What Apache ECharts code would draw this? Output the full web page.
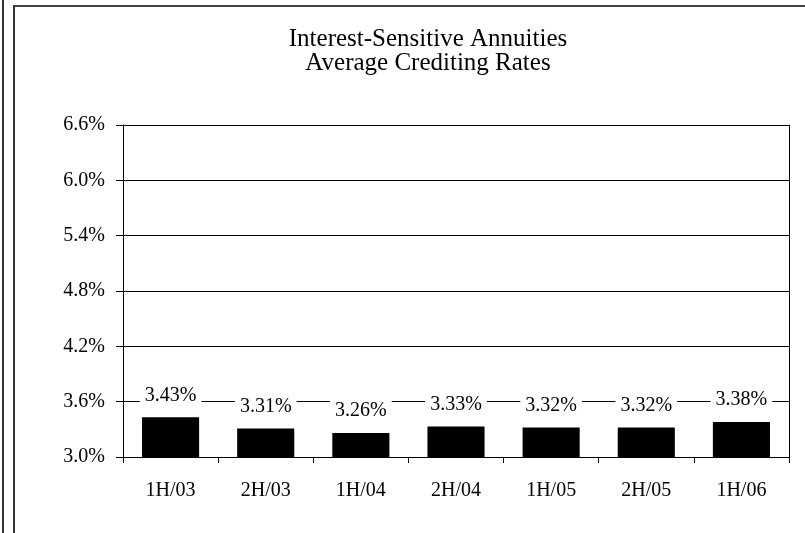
<!DOCTYPE html>
<html>
<head>
<meta charset="utf-8">
<script src="https://cdn.jsdelivr.net/npm/echarts@6/dist/echarts.min.js"></script>
<style>
  html, body { margin: 0; padding: 0; background: #fff; }
  .wrap { position: relative; width: 805px; height: 533px; overflow: hidden; }
  /* outer frame lines */
  .edge { position: absolute; left: 2px; top: 0; width: 0; height: 533px; border-left: 2px solid #333; }
  .frame { position: absolute; left: 13px; top: 5px; width: 820px; height: 560px; border-left: 2px solid #333; border-top: 2px solid #444; }
  #chart { position: absolute; left: 0; top: 0; width: 805px; height: 533px; }
</style>
</head>
<body>
<div class="wrap">
  <div class="edge"></div>
  <div class="frame"></div>
  <div id="chart"></div>
</div>
<script>
// 数据
const categories = ['1H/03', '2H/03', '1H/04', '2H/04', '1H/05', '2H/05', '1H/06']
const rates = [3.43, 3.31, 3.26, 3.33, 3.32, 3.32, 3.38]
const yTicks = [3.0, 3.6, 4.2, 4.8, 5.4, 6.0, 6.6]

const font = '"Liberation Serif", "Times New Roman", serif'

const myChart = echarts.init(document.getElementById('chart'))
const option = {
  backgroundColor: 'transparent',
  animation: false,
  title: {
    text: 'Interest-Sensitive Annuities\nAverage Crediting Rates',
    left: 423,
    top: 22,
    textAlign: 'center',
    textStyle: {
      fontFamily: font,
      fontSize: 25,
      fontWeight: 'normal',
      color: '#000',
      lineHeight: 24
    }
  },
  grid: {
    left: 123,
    right: 16,
    top: 125,
    bottom: 76,
    containLabel: false
  },
  xAxis: {
    type: 'category',
    data: categories,
    boundaryGap: true,
    axisLine: { lineStyle: { color: '#000', width: 1 } },
    axisTick: { show: true, length: 6, lineStyle: { color: '#000' } },
    axisLabel: {
      margin: 24,
      fontFamily: font,
      fontSize: 20,
      color: '#000'
    }
  },
  yAxis: [
    {
      type: 'value',
      min: yTicks[0],
      max: yTicks[yTicks.length - 1],
      interval: 0.6,
      axisLine: { show: true, lineStyle: { color: '#000', width: 1 } },
      axisTick: { show: true, length: 7, lineStyle: { color: '#000' } },
      splitLine: { show: true, lineStyle: { color: '#000', width: 1 } },
      axisLabel: {
        margin: 18,
        fontFamily: font,
        fontSize: 20,
        color: '#000',
        formatter: (v) => v.toFixed(1) + '%'
      }
    },
    {
      // 右侧边框
      type: 'value',
      position: 'right',
      min: yTicks[0],
      max: yTicks[yTicks.length - 1],
      interval: 0.6,
      axisLine: { show: true, lineStyle: { color: '#000', width: 1 } },
      axisTick: { show: false },
      axisLabel: { show: false },
      splitLine: { show: false }
    }
  ],
  series: [
    {
      type: 'bar',
      data: rates,
      barWidth: '60%',
      itemStyle: { color: '#000' },
      label: {
        show: true,
        position: 'top',
        distance: 12,
        fontFamily: font,
        fontSize: 20,
        color: '#000',
        backgroundColor: '#fff',
        padding: [0, 5],
        formatter: (p) => p.value.toFixed(2) + '%'
      }
    }
  ]
}
myChart.setOption(option)
</script>
</body>
</html>
